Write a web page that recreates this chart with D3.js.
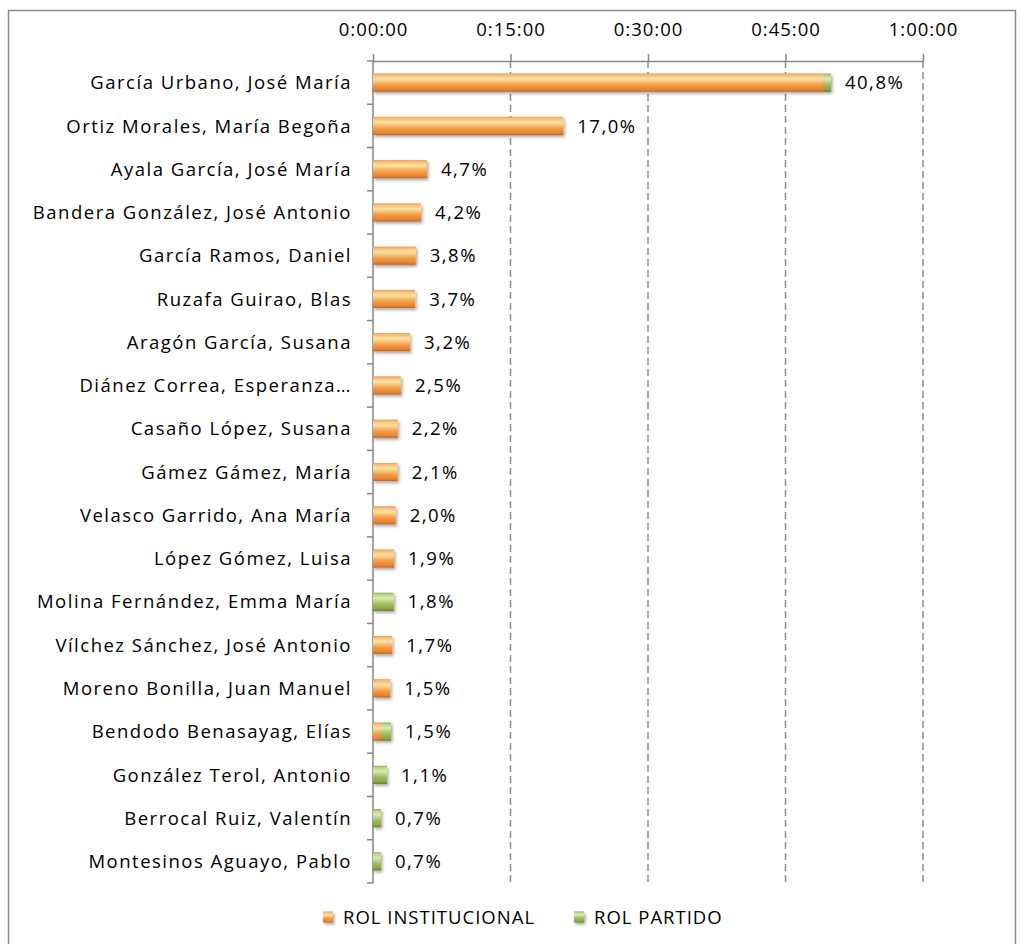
<!DOCTYPE html>
<html><head><meta charset="utf-8">
<script src="https://cdn.jsdelivr.net/npm/d3@7"></script>
<style>
body{margin:0;background:#fff;}
text{font-family:"Open Sans",sans-serif;fill:#000;}
</style>
</head><body>
<svg id="c" width="1024" height="944"></svg>
<script>
// ---- data (durations in minutes) ----
const names = [
  "García Urbano, José María",
  "Ortiz Morales, María Begoña",
  "Ayala García, José María",
  "Bandera González, José Antonio",
  "García Ramos, Daniel",
  "Ruzafa Guirao, Blas",
  "Aragón García, Susana",
  "Diánez Correa, Esperanza…",
  "Casaño López, Susana",
  "Gámez Gámez, María",
  "Velasco Garrido, Ana María",
  "López Gómez, Luisa",
  "Molina Fernández, Emma María",
  "Vílchez Sánchez, José Antonio",
  "Moreno Bonilla, Juan Manuel",
  "Bendodo Benasayag, Elías",
  "González Terol, Antonio",
  "Berrocal Ruiz, Valentín",
  "Montesinos Aguayo, Pablo"
];
const institucional = [49.2, 20.76, 5.89, 5.24, 4.66, 4.6, 4.04, 3.05, 2.69, 2.69, 2.47, 2.29, 0, 2.1, 1.89, 0.87, 0, 0, 0];
const partido       = [0.76, 0, 0, 0, 0, 0, 0, 0, 0, 0, 0, 0, 2.26, 0, 0, 1.09, 1.53, 0.87, 0.87];
const percents      = [40.8, 17.0, 4.7, 4.2, 3.8, 3.7, 3.2, 2.5, 2.2, 2.1, 2.0, 1.9, 1.8, 1.7, 1.5, 1.5, 1.1, 0.7, 0.7];
const seriesNames   = ["ROL INSTITUCIONAL", "ROL PARTIDO"];
const tickValues    = [0, 15, 30, 45, 60];
const tickLabels    = ["0:00:00", "0:15:00", "0:30:00", "0:45:00", "1:00:00"];

// ---- layout ----
const svg = d3.select("#c");
const M = {left: 373, right: 923, top: 61, bottom: 883};
const FONT = 18.5;
const LS = "1.5px";

svg.append("rect").attr("x", 8.5).attr("y", 10.5).attr("width", 1007).attr("height", 950)
  .attr("fill", "#fff").attr("stroke", "#8a8a8a").attr("stroke-width", 1.5);

const defs = svg.append("defs");
function grad(id, stops) {
  const g = defs.append("linearGradient").attr("id", id).attr("x1", 0).attr("y1", 0).attr("x2", 0).attr("y2", 1);
  stops.forEach(s => g.append("stop").attr("offset", s[0]).attr("stop-color", s[1]));
}
grad("gOrange", [[0, "#eb9a4c"], [0.1, "#f8bd78"], [0.3, "#fde3a2"], [0.45, "#f9c47a"], [0.65, "#f39a45"], [0.88, "#e7842f"], [1, "#b9672a"]]);
grad("gGreen",  [[0, "#8fae4e"], [0.1, "#b9d285"], [0.3, "#dcebb1"], [0.45, "#bdd68c"], [0.65, "#9bbb59"], [0.88, "#88a846"], [1, "#5f7d2c"]]);
const sh = defs.append("filter").attr("id", "sh").attr("x", "-20%").attr("y", "-30%").attr("width", "160%").attr("height", "180%");
sh.append("feDropShadow").attr("dx", 1.5).attr("dy", 2).attr("stdDeviation", 1.5).attr("flood-color", "#000").attr("flood-opacity", 0.35);
const fills = ["url(#gOrange)", "url(#gGreen)"];

const x = d3.scaleLinear().domain([0, 60]).range([M.left, M.right]);
const y = d3.scaleBand().domain(names).range([M.top, M.bottom]).paddingInner(0.58).paddingOuter(0.29);
const step = y.step();

// gridlines
svg.append("g").selectAll("line").data(tickValues.slice(1)).join("line")
  .attr("x1", d => x(d)).attr("x2", d => x(d)).attr("y1", M.top).attr("y2", M.bottom)
  .attr("stroke", "#8c8c8c").attr("stroke-width", 1.5).attr("stroke-dasharray", "7,4");

// top axis
const ax = svg.append("g").attr("transform", `translate(0,${M.top})`)
  .call(d3.axisTop(x).tickValues(tickValues).tickFormat((d, i) => tickLabels[i]).tickSize(7).tickSizeOuter(0).tickPadding(18));
ax.select(".domain").attr("stroke", "#868686").attr("stroke-width", 1.5);
ax.selectAll(".tick line").attr("stroke", "#868686").attr("stroke-width", 1.5);
ax.selectAll("text").style("font-family", '"Open Sans",sans-serif').style("font-size", FONT + "px")
  .style("letter-spacing", "1px").attr("fill", "#000");

// left axis
svg.append("line").attr("x1", M.left).attr("x2", M.left).attr("y1", M.top).attr("y2", M.bottom)
  .attr("stroke", "#868686").attr("stroke-width", 1.5);
svg.append("g").selectAll("line").data(d3.range(names.length + 1)).join("line")
  .attr("x1", M.left - 6).attr("x2", M.left).attr("y1", i => M.top + i * step).attr("y2", i => M.top + i * step)
  .attr("stroke", "#868686").attr("stroke-width", 1.5);
svg.append("g").selectAll("text").data(names).join("text")
  .attr("x", M.left - 21).attr("y", d => y(d) + y.bandwidth() / 2).attr("dy", "0.36em")
  .attr("text-anchor", "end").style("font-size", FONT + "px").style("letter-spacing", LS).text(d => d);

// stacked bars
const table = names.map((n, i) => ({name: n, inst: institucional[i], part: partido[i]}));
const stack = d3.stack().keys(["inst", "part"])(table);
svg.append("g").selectAll("g").data(stack).join("g")
  .attr("fill", (s, i) => fills[i]).attr("filter", "url(#sh)")
  .selectAll("rect").data(s => s.filter(d => d[1] - d[0] > 0)).join("rect")
  .attr("x", d => x(d[0])).attr("width", d => x(d[1]) - x(d[0]))
  .attr("y", d => y(d.data.name)).attr("height", y.bandwidth());

// value labels
const fmt = v => d3.format(".1f")(v).replace(".", ",") + "%";
svg.append("g").selectAll("text").data(table).join("text")
  .attr("x", d => x(d.inst + d.part) + 14).attr("y", d => y(d.name) + y.bandwidth() / 2).attr("dy", "0.36em")
  .style("font-size", FONT + "px").style("letter-spacing", LS).text((d, i) => fmt(percents[i]));

// legend
const LY = 917;
const lg = svg.append("g");
const lx = [323, 574];
seriesNames.forEach((s, i) => {
  lg.append("rect").attr("x", lx[i]).attr("y", LY - 5.5).attr("width", 10).attr("height", 11)
    .attr("fill", fills[i]).attr("filter", "url(#sh)");
  lg.append("text").attr("x", lx[i] + 20).attr("y", LY).attr("dy", "0.36em")
    .style("font-size", FONT + "px").style("letter-spacing", "1px").text(s);
});
</script>
</body></html>
